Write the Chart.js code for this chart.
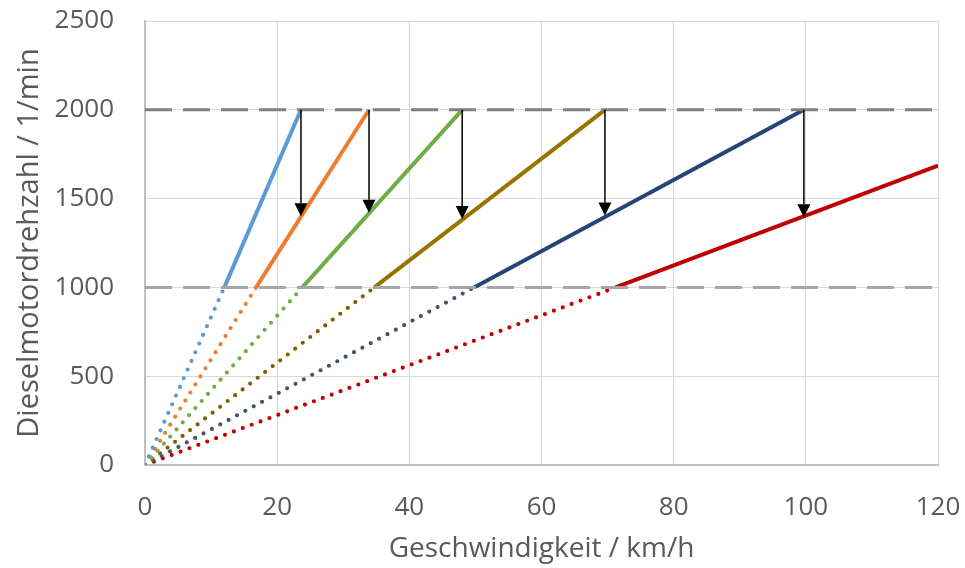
<!DOCTYPE html>
<html lang="de">
<head>
<meta charset="UTF-8">
<title>Drehzahl über Geschwindigkeit</title>
<script src="https://cdn.jsdelivr.net/npm/chart.js"></script>
<style>
  html, body { margin: 0; padding: 0; background: #fff; }
  #wrap { width: 965px; height: 568px; }
</style>
</head>
<body>
<div id="wrap"><canvas id="gearChart"></canvas></div>
<script>
// speed (km/h) of each gear at 1000 and 2000 rpm
const speedAt1000 = [12.0, 16.8, 23.8, 34.7, 49.8, 71.2]
const speedAt2000 = [23.6, 33.9, 48.0, 69.6, 99.7]
// last gear runs to the right edge
const lastGearEnd = { x: 120, y: 1686 }
const lowRpm = 1000
const highRpm = 2000

// shift arrows: drop from 2000 rpm to the next gear's rpm
const arrowSpeed = [23.6, 33.9, 48.0, 69.6, 99.7]
const arrowRpmTo = [1400, 1420, 1385, 1405, 1395]

const solidColors = ['#5B9BD5', '#ED7D31', '#70AD47', '#997300', '#264478', '#C00000']
const dotColors = ['#5B9BD5', '#ED7D31', '#70AD47', '#7F6000', '#44546A', '#C00000']

const datasets = []

// dashed limits at 1000 and 2000 rpm
datasets.push({
  data: [{ x: 0, y: highRpm }, { x: 120, y: highRpm }],
  borderColor: '#808080', borderWidth: 3, borderDash: [27, 11], pointRadius: 0
})
datasets.push({
  data: [{ x: 0, y: lowRpm }, { x: 120, y: lowRpm }],
  borderColor: '#A6A6A6', borderWidth: 3, borderDash: [27, 11], pointRadius: 0
})

speedAt1000.forEach((v, i) => {
  // dotted part below 1000 rpm
  datasets.push({
    data: [{ x: 0, y: 0 }, { x: v, y: lowRpm }],
    borderColor: dotColors[i], borderWidth: 4.2, borderDash: [0, 9.5],
    borderCapStyle: 'round', pointRadius: 0
  })
  // solid working range
  const end = i < speedAt2000.length ? { x: speedAt2000[i], y: highRpm } : lastGearEnd
  datasets.push({
    data: [{ x: v, y: lowRpm }, end],
    borderColor: solidColors[i], borderWidth: 4, pointRadius: 0
  })
})

const shiftArrows = {
  id: 'shiftArrows',
  afterDatasetsDraw(chart) {
    const { ctx, scales: { x, y } } = chart
    ctx.save()
    ctx.strokeStyle = '#000'
    ctx.fillStyle = '#000'
    ctx.lineWidth = 1.5
    arrowSpeed.forEach((s, i) => {
      const px = x.getPixelForValue(s)
      const top = y.getPixelForValue(highRpm)
      const tip = y.getPixelForValue(arrowRpmTo[i])
      const head = 13
      ctx.beginPath()
      ctx.moveTo(px, top)
      ctx.lineTo(px, tip - head)
      ctx.stroke()
      ctx.beginPath()
      ctx.moveTo(px - 6.5, tip - head)
      ctx.lineTo(px + 6.5, tip - head)
      ctx.lineTo(px, tip)
      ctx.closePath()
      ctx.fill()
    })
    ctx.restore()
  }
}

const tickFont = { family: 'Open Sans', size: 26 }
const titleFont = { family: 'Open Sans', size: 28 }
const plain = (v) => String(v)

new Chart(document.getElementById('gearChart'), {
  type: 'line',
  data: { datasets },
  plugins: [shiftArrows],
  options: {
    responsive: true,
    maintainAspectRatio: false,
    animation: false,
    layout: { padding: { left: 0, right: 27, top: 21, bottom: 0 } },
    plugins: { legend: { display: false }, tooltip: { enabled: false } },
    elements: { line: { tension: 0 } },
    scales: {
      x: {
        type: 'linear',
        min: 0, max: 120,
        ticks: { stepSize: 20, color: '#595959', font: tickFont, padding: 27, callback: plain },
        grid: { color: '#D9D9D9', lineWidth: 1, drawTicks: false },
        border: { color: '#BFBFBF', width: 2 },
        title: { display: true, text: 'Geschwindigkeit / km/h', color: '#595959', font: titleFont, padding: { top: 0, bottom: 2 } },
        afterFit(scale) {
          scale.height = 103
          scale.paddingLeft = 0
          scale.paddingRight = 0
        }
      },
      y: {
        min: 0, max: 2500,
        ticks: { stepSize: 500, color: '#595959', font: tickFont, padding: 31, callback: plain },
        grid: { color: '#D9D9D9', lineWidth: 1, drawTicks: false },
        border: { color: '#BFBFBF', width: 2 },
        title: { display: true, text: 'Dieselmotordrehzahl / 1/min', color: '#595959', font: { family: 'Open Sans', size: 29 }, padding: { top: 12, bottom: 0 } },
        afterFit(scale) {
          scale.width = 145
          scale.paddingTop = 0
          scale.paddingBottom = 0
        }
      }
    }
  }
})
</script>
</body>
</html>
